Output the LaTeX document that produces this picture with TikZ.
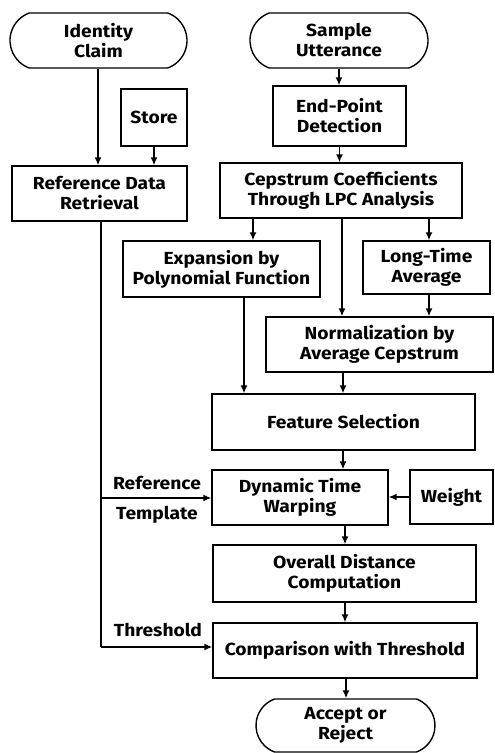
\documentclass[tikz,border=0pt]{standalone}
\usepackage{fontspec}
\setmainfont{Fira Sans}[FakeStretch=1.1]
\usetikzlibrary{arrows.meta,shapes.misc}
\begin{document}
\begin{tikzpicture}[x=1pt,y=-1pt,
  every node/.style={font=\fontsize{17.5}{20}\selectfont\bfseries, align=center, inner sep=0pt},
  box/.style={draw, line width=1.4pt, rectangle},
  term/.style={draw, line width=1.4pt, rounded rectangle, rounded rectangle arc length=140},
  arr/.style={line width=1.4pt, -{Latex[length=8pt,width=7pt]}},
  ln/.style={line width=1.4pt},
  lbl/.style={font=\fontsize{17.5}{20}\selectfont\bfseries}]
\useasboundingbox (0,0) rectangle (495,753);
% nodes
\node[term, minimum width=177pt, minimum height=55pt] (idc) at (98.5,40.5) {Identity\\Claim};
\node[box, minimum width=66pt, minimum height=57pt] (store) at (154,117.5) {Store};
\node[box, minimum width=175pt, minimum height=55pt] (rdr) at (99.5,193.5) {Reference Data\\Retrieval};
\node[term, minimum width=178pt, minimum height=55pt] (su) at (339,40.5) {Sample\\Utterance};
\node[box, minimum width=133pt, minimum height=60pt] (epd) at (339.5,116) {End-Point\\Detection};
\node[box, minimum width=242pt, minimum height=55pt] (cep) at (341,190.5) {Cepstrum Coefficients\\Through LPC Analysis};
\node[box, minimum width=197pt, minimum height=56pt] (exp) at (221.5,269) {Expansion by\\Polynomial Function};
\node[box, minimum width=127pt, minimum height=53pt] (lta) at (426.5,267.5) {Long-Time\\Average};
\node[box, minimum width=227pt, minimum height=55pt] (norm) at (379.5,344.5) {Normalization by\\Average Cepstrum};
\node[box, minimum width=263pt, minimum height=56pt] (fs) at (343.5,422) {Feature Selection};
\node[box, minimum width=176pt, minimum height=55pt] (dtw) at (300,497.5) {Dynamic Time\\Warping};
\node[box, minimum width=83pt, minimum height=54pt] (wt) at (451.5,497) {Weight};
\node[box, minimum width=263pt, minimum height=57pt] (odc) at (344.5,573.5) {Overall Distance\\Computation};
\node[box, minimum width=264pt, minimum height=55pt] (cmp) at (345,650.5) {Comparison with Threshold};
\node[term, minimum width=179pt, minimum height=53pt] (acc) at (345.5,725.5) {Accept or\\Reject};
% labels
\node[lbl] (lref) at (157,483) {Reference};
\node[lbl] (ltem) at (157,515) {Template};
\node[lbl] (lthr) at (158,630) {Threshold};
% connectors
\draw[arr] (98,0 |- idc.south) -- (98,0 |- rdr.north);
\draw[arr] (store.south) -- (154,0 |- rdr.north);
\draw[arr] (su.south) -- (339,0 |- epd.north);
\draw[arr] (epd.south) -- (339.5,0 |- cep.north);
\draw[arr] (253,0 |- cep.south) -- (253,0 |- exp.north);
\draw[arr] (342,0 |- cep.south) -- (342,0 |- norm.north);
\draw[arr] (429,0 |- cep.south) -- (429,0 |- lta.north);
\draw[arr] (429,0 |- lta.south) -- (429,0 |- norm.north);
\draw[arr] (244,0 |- exp.south) -- (244,0 |- fs.north);
\draw[arr] (343,0 |- norm.south) -- (343,0 |- fs.north);
\draw[arr] (343,0 |- fs.south) -- (343,0 |- dtw.north);
\draw[arr] (wt.west) -- (dtw.east |- wt.west);
\draw[arr] (345,0 |- dtw.south) -- (345,0 |- odc.north);
\draw[arr] (345,0 |- odc.south) -- (345,0 |- cmp.north);
\draw[arr] (346,0 |- cmp.south) -- (346,0 |- acc.north);
\coordinate (vt) at (101,0 |- rdr.south);
\coordinate (vb) at (101,647);
\draw[ln] (vt) -- (vb);
\draw[arr] (vb) -- (cmp.west |- vb);
\draw[arr] (101,498) -- (dtw.west |- 0,498);
\end{tikzpicture}
\end{document}
